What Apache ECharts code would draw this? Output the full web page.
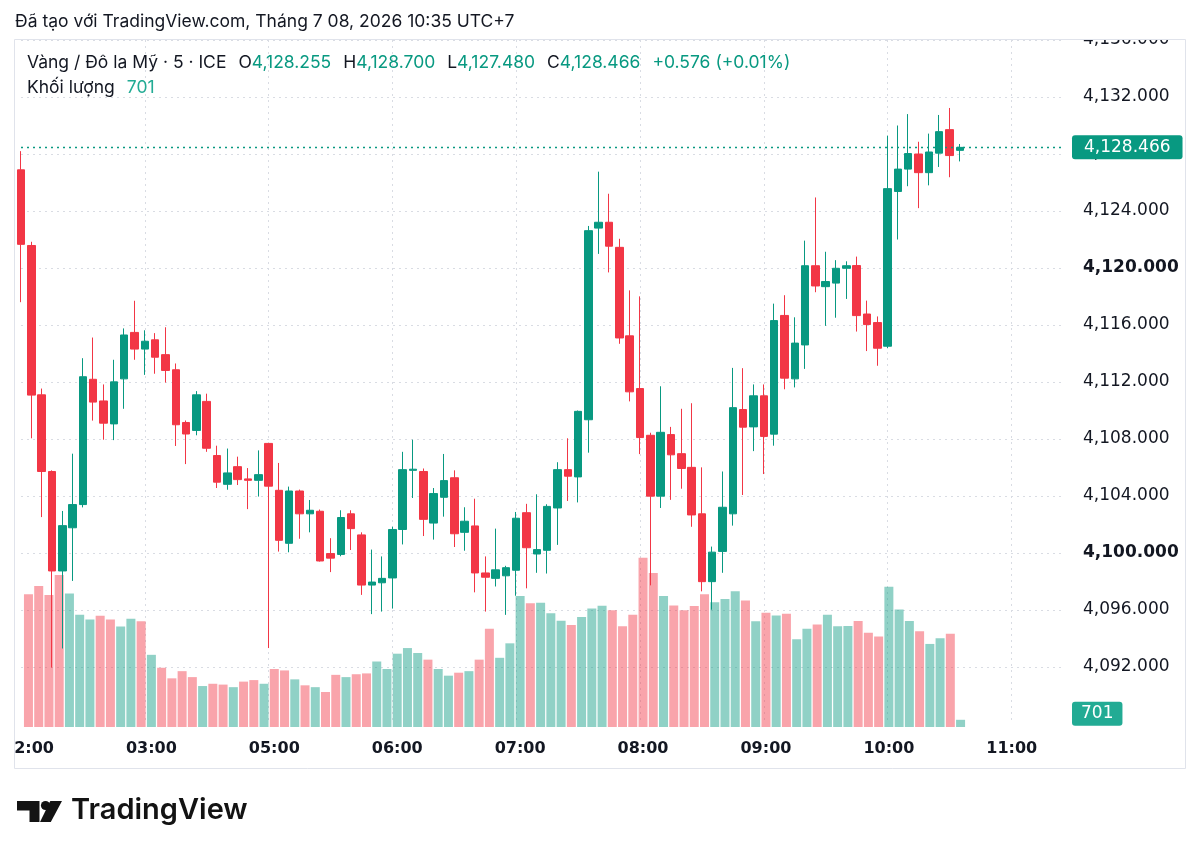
<!DOCTYPE html>
<html>
<head>
<meta charset="utf-8">
<title>Vàng / Đô la Mỹ · 5 · ICE</title>
<script src="https://cdn.jsdelivr.net/npm/echarts@6/dist/echarts.min.js"></script>
<style>
  html, body { margin: 0; padding: 0; background: #fff; }
  #chart { width: 1200px; height: 857px; }
</style>
</head>
<body>
<div id="chart"></div>
<script>
// 5 phút một nến, nghỉ phiên 04:00-05:00
const times = [
  '02:00','02:05','02:10','02:15','02:20','02:25','02:30','02:35','02:40','02:45','02:50','02:55',
  '03:00','03:05','03:10','03:15','03:20','03:25','03:30','03:35','03:40','03:45','03:50','03:55',
  '05:00','05:05','05:10','05:15','05:20','05:25','05:30','05:35','05:40','05:45','05:50','05:55',
  '06:00','06:05','06:10','06:15','06:20','06:25','06:30','06:35','06:40','06:45','06:50','06:55',
  '07:00','07:05','07:10','07:15','07:20','07:25','07:30','07:35','07:40','07:45','07:50','07:55',
  '08:00','08:05','08:10','08:15','08:20','08:25','08:30','08:35','08:40','08:45','08:50','08:55',
  '09:00','09:05','09:10','09:15','09:20','09:25','09:30','09:35','09:40','09:45','09:50','09:55',
  '10:00','10:05','10:10','10:15','10:20','10:25','10:30','10:35','10:40','10:45','10:50','10:55',
  '11:00','11:05','11:10','11:15','11:20','11:25'
]

const opens = [
  4126.89, 4121.58, 4111.10, 4105.72, 4098.74, 4101.77, 4103.40, 4112.19, 4110.67, 4109.06, 4112.22, 4115.48,
  4114.31, 4114.96, 4113.92, 4112.86, 4109.16, 4108.60, 4110.64, 4106.84, 4104.82, 4106.06, 4105.20, 4105.10,
  4107.69, 4104.40, 4100.68, 4104.35, 4102.75, 4102.93, 4099.96, 4099.90, 4102.75, 4101.27, 4097.75, 4097.91,
  4098.25, 4101.65, 4105.80, 4105.72, 4102.10, 4103.91, 4105.28, 4101.45, 4101.90, 4098.60, 4098.22, 4098.40,
  4098.79, 4102.83, 4099.93, 4100.19, 4103.16, 4105.85, 4105.34, 4109.35, 4122.80, 4123.21, 4121.45, 4115.24,
  4111.54, 4108.26, 4103.99, 4108.31, 4106.97, 4106.01, 4102.75, 4097.99, 4100.11, 4102.75, 4110.07, 4108.85,
  4111.03, 4108.34, 4116.67, 4112.22, 4114.60, 4120.16, 4118.69, 4118.94, 4119.98, 4120.17, 4116.77, 4116.17,
  4114.51, 4125.37, 4126.94, 4128.00, 4126.69, 4128.06, 4129.71, 4128.255
]
const closes = [
  4121.66, 4111.08, 4105.72, 4098.74, 4101.92, 4103.40, 4112.37, 4110.59, 4109.11, 4112.01, 4115.30, 4114.31,
  4114.86, 4113.74, 4112.81, 4109.00, 4108.35, 4111.10, 4107.35, 4104.97, 4105.62, 4105.15, 4105.10, 4105.50,
  4104.69, 4100.89, 4104.35, 4102.75, 4103.00, 4099.44, 4099.64, 4102.49, 4101.71, 4097.75, 4097.96, 4098.22,
  4101.65, 4105.85, 4105.88, 4102.36, 4104.17, 4105.08, 4101.35, 4102.23, 4098.60, 4098.30, 4098.82, 4098.97,
  4102.44, 4100.37, 4100.24, 4103.27, 4105.85, 4105.39, 4109.94, 4122.62, 4123.21, 4121.53, 4115.09, 4111.31,
  4108.10, 4103.99, 4108.47, 4106.89, 4105.93, 4102.67, 4097.99, 4100.06, 4103.21, 4110.20, 4108.83, 4111.03,
  4108.18, 4116.31, 4112.27, 4114.73, 4120.16, 4118.74, 4119.05, 4119.98, 4120.16, 4116.66, 4116.03, 4114.37,
  4125.57, 4126.94, 4128.03, 4126.69, 4128.14, 4129.57, 4127.89, 4128.466
]
const lows = [
  4117.60, 4108.05, 4102.52, 4091.96, 4093.30, 4098.04, 4103.20, 4109.29, 4107.95, 4107.92, 4110.12, 4113.56,
  4112.50, 4112.58, 4111.96, 4107.51, 4106.24, 4108.26, 4107.10, 4104.56, 4104.44, 4104.77, 4103.08, 4103.96,
  4093.33, 4100.10, 4100.05, 4101.00, 4101.45, 4099.40, 4098.66, 4099.77, 4100.21, 4097.06, 4095.71, 4095.89,
  4096.10, 4100.60, 4103.86, 4101.19, 4100.94, 4102.55, 4100.42, 4100.16, 4097.24, 4095.89, 4097.65, 4095.66,
  4097.00, 4097.52, 4098.61, 4098.56, 4100.57, 4103.65, 4103.55, 4107.04, 4120.99, 4119.69, 4114.68, 4110.64,
  4106.94, 4097.73, 4103.16, 4103.73, 4104.51, 4101.84, 4097.31, 4096.02, 4098.61, 4101.92, 4104.07, 4107.15,
  4105.54, 4107.53, 4111.49, 4111.62, 4112.92, 4118.30, 4115.94, 4116.51, 4117.83, 4115.54, 4114.17, 4113.14,
  4114.37, 4122.00, 4125.74, 4124.20, 4125.80, 4127.09, 4126.37, 4127.48
]
const highs = [
  4128.20, 4121.84, 4111.54, 4105.80, 4102.95, 4106.97, 4113.67, 4115.12, 4111.83, 4113.56, 4115.76, 4117.70,
  4115.63, 4115.43, 4115.84, 4113.30, 4109.30, 4111.36, 4111.18, 4107.53, 4107.33, 4106.76, 4105.96, 4107.20,
  4107.70, 4106.32, 4104.66, 4104.45, 4103.72, 4103.05, 4101.04, 4103.00, 4103.00, 4101.45, 4100.24, 4099.76,
  4101.84, 4107.10, 4107.95, 4105.93, 4104.56, 4106.95, 4105.80, 4103.21, 4103.81, 4099.76, 4101.71, 4099.10,
  4102.88, 4103.45, 4104.12, 4103.42, 4106.37, 4108.05, 4110.00, 4122.95, 4126.76, 4125.21, 4122.05, 4118.43,
  4118.01, 4108.44, 4111.70, 4108.85, 4110.12, 4110.51, 4106.01, 4100.45, 4105.72, 4112.99, 4112.97, 4111.83,
  4111.83, 4117.50, 4118.09, 4116.54, 4121.92, 4124.95, 4121.14, 4120.55, 4120.47, 4120.80, 4117.71, 4116.60,
  4129.29, 4130.00, 4130.80, 4128.86, 4129.43, 4130.74, 4131.23, 4128.70
]
const volumes = [
  12930, 13730, 12860, 14800, 13000, 10940, 10470, 10830, 10470,  9780, 10540, 10290,
   7030,  5770,  4740,  5440,  4860,  3990,  4210,  4130,  3880,  4420,  4570,  4210,
   5650,  5510,  4640,  4060,  3880,  3410,  5080,  4860,  5140,  5220,  6380,  5650,
   7140,  7690,  7210,  6560,  5650,  5000,  5290,  5440,  6560,  9570,  6740,  8150,
  12750, 12060, 12100, 11080, 10360,  9930, 10720, 11550, 11810, 11380,  9820, 10940,
  16480, 15000, 12750, 11840, 11380, 11780, 12940, 12140, 12460, 13220, 12310, 10290,
  11120, 10870, 11020,  8550,  9570,  9990, 10940,  9820,  9840, 10320,  9170,  8820,
  13670, 11440, 10320,  9330,  8090,  8650,  9090,   701
]

const priceMin = 4088
const priceMax = 4136
const priceStep = 4
const boldPrices = [4100, 4120]
const volumeMax = 29220

const UP = '#089981'
const DOWN = '#f23645'
const VOL_TAG = '#22ab94'
const TEXT = '#131722'
const GRID = '#d9dce3'

const last = opens.length - 1
const lastPrice = closes[last]
const lastVolume = volumes[last]

const fmt = (v) => v.toLocaleString('en-US', { minimumFractionDigits: 3, maximumFractionDigits: 3 })
const isHour = (v) => v.slice(3) === '00'

// dữ liệu nến: [open, close, low, high]
const candles = opens.map((o, i) => [o, closes[i], lows[i], highs[i]])
const volBars = volumes.map((v, i) => ({
  value: v,
  itemStyle: { color: closes[i] >= opens[i] ? 'rgba(8,153,129,0.45)' : 'rgba(242,54,69,0.45)' }
}))

const change = lastPrice - closes[last - 1]
const changePct = change / closes[last - 1] * 100
const sign = change >= 0 ? '+' : ''

const legendLine1 =
  '{d|Vàng / Đô la Mỹ · 5 · ICE}{g| }' +
  '{d|O}{v|' + fmt(opens[last]) + '}{g| }' +
  '{d|H}{v|' + fmt(highs[last]) + '}{g| }' +
  '{d|L}{v|' + fmt(lows[last]) + '}{g| }' +
  '{d|C}{v|' + fmt(lastPrice) + '}{g| }' +
  '{v|' + sign + change.toFixed(3) + ' (' + sign + changePct.toFixed(2) + '%)}'

const legendRich = {
  d: { fontFamily: 'Inter', fontSize: 17.5, fill: TEXT },
  v: { fontFamily: 'Inter', fontSize: 17.5, fill: UP },
  w: { fontFamily: 'Inter', fontSize: 17.5, fill: VOL_TAG },
  g: { fontFamily: 'Inter', fontSize: 17.5, width: 12 }
}

const tagLabel = (text, bg) => ({
  show: true,
  position: 'end',
  distance: 9,
  formatter: text,
  color: '#fff',
  backgroundColor: bg,
  padding: [4, 12, 3, 12],
  borderRadius: 3,
  fontSize: 17,
  fontFamily: 'DejaVu Sans'
})

const chart = echarts.init(document.getElementById('chart'))

const option = {
  animation: false,
  backgroundColor: '#fff',
  grid: [
    { left: 21, right: 137, top: 40, bottom: 133 },
    { left: 21, right: 137, top: 427, bottom: 130 }
  ],
  xAxis: [
    {
      type: 'category',
      gridIndex: 0,
      data: times,
      boundaryGap: false,
      axisLine: { show: false },
      axisTick: { show: false },
      axisLabel: { show: false },
      splitLine: {
        show: true,
        interval: (i, v) => i > 0 && isHour(v),
        lineStyle: { color: GRID, type: [2, 4], width: 1 }
      }
    },
    {
      type: 'category',
      gridIndex: 1,
      data: times,
      boundaryGap: false,
      axisLine: { show: false },
      axisTick: { show: false },
      splitLine: { show: false },
      axisLabel: {
        interval: (i, v) => isHour(v),
        color: TEXT,
        fontSize: 16,
        fontWeight: 'bold',
        fontFamily: 'DejaVu Sans',
        margin: 14
      }
    }
  ],
  yAxis: [
    {
      type: 'value',
      gridIndex: 0,
      position: 'right',
      min: priceMin,
      max: priceMax,
      interval: priceStep,
      axisLine: { show: false },
      axisTick: { show: false },
      splitLine: {
        show: true,
        showMinLine: false,
        lineStyle: { color: GRID, type: [2, 4], width: 1 }
      },
      axisLabel: {
        margin: 20,
        align: 'left',
        color: TEXT,
        fontSize: 17,
        fontFamily: 'DejaVu Sans',
        formatter: (v) => {
          if (v === priceMin) return ''
          return boldPrices.includes(v) ? '{b|' + fmt(v) + '}' : fmt(v)
        },
        rich: {
          b: { fontWeight: 'bold', fontSize: 17, fontFamily: 'DejaVu Sans', color: TEXT }
        }
      }
    },
    {
      type: 'value',
      gridIndex: 1,
      min: 0,
      max: volumeMax,
      show: false,
      splitLine: { show: false }
    }
  ],
  series: [
    {
      name: 'Khối lượng',
      type: 'bar',
      xAxisIndex: 1,
      yAxisIndex: 1,
      data: volBars,
      barWidth: 9,
      clip: false,
      z: 2,
      markLine: {
        silent: true,
        symbol: 'none',
        lineStyle: { color: 'rgba(0,0,0,0)', width: 1 },
        data: [{ yAxis: lastVolume }],
        label: Object.assign(tagLabel(String(lastVolume), VOL_TAG), { padding: [4, 9, 3, 9], offset: [0, -6] })
      }
    },
    {
      name: 'Vàng / Đô la Mỹ',
      type: 'candlestick',
      xAxisIndex: 0,
      yAxisIndex: 0,
      data: candles,
      barWidth: 8,
      clip: false,
      z: 3,
      itemStyle: {
        color: UP,
        color0: DOWN,
        borderColor: UP,
        borderColor0: DOWN,
        borderWidth: 1
      },
      markLine: {
        silent: true,
        symbol: 'none',
        data: [{ yAxis: lastPrice }],
        lineStyle: { color: UP, type: [2, 4], width: 1.3, opacity: 1 },
        emphasis: { disabled: true },
        label: tagLabel(fmt(lastPrice), UP)
      }
    }
  ],
  graphic: [
    // che phần trên của nhãn 4,136 và chữ "0" đầu của 02:00
    { type: 'rect', z: 100, shape: { x: 1064, y: 24, width: 120, height: 15 }, style: { fill: '#fff' } },
    { type: 'rect', z: 100, shape: { x: 0, y: 732, width: 14, height: 34 }, style: { fill: '#fff' } },
    // khung
    {
      type: 'rect', z: 101,
      shape: { x: 14.5, y: 39.5, width: 1171, height: 729 },
      style: { fill: 'none', stroke: '#e0e3eb', lineWidth: 1 }
    },
    {
      type: 'text', z: 101, left: 15, top: 13,
      style: { text: 'Đã tạo với TradingView.com, Tháng 7 08, 2026 10:35 UTC+7', font: '17.5px Inter', fill: TEXT }
    },
    {
      type: 'text', z: 101, left: 27, top: 54,
      style: { text: legendLine1, rich: legendRich }
    },
    {
      type: 'text', z: 101, left: 27, top: 79,
      style: { text: '{d|Khối lượng}{g| }{w|' + lastVolume + '}', rich: legendRich }
    },
    // logo TradingView
    {
      type: 'polygon', z: 101,
      shape: { points: [[17, 801], [39.5, 801], [39.5, 822], [29.5, 822], [29.5, 810.5], [17, 810.5]] },
      style: { fill: '#131313' }
    },
    { type: 'circle', z: 101, shape: { cx: 45.5, cy: 805.5, r: 4.6 }, style: { fill: '#131313' } },
    {
      type: 'polygon', z: 101,
      shape: { points: [[50.3, 801], [62, 801], [50.8, 822], [40, 822]] },
      style: { fill: '#131313' }
    },
    {
      type: 'text', z: 101, left: 71, top: 796,
      style: { text: 'TradingView', font: '600 29px Inter', fill: '#131313' }
    }
  ]
}

chart.setOption(option)
</script>
</body>
</html>
